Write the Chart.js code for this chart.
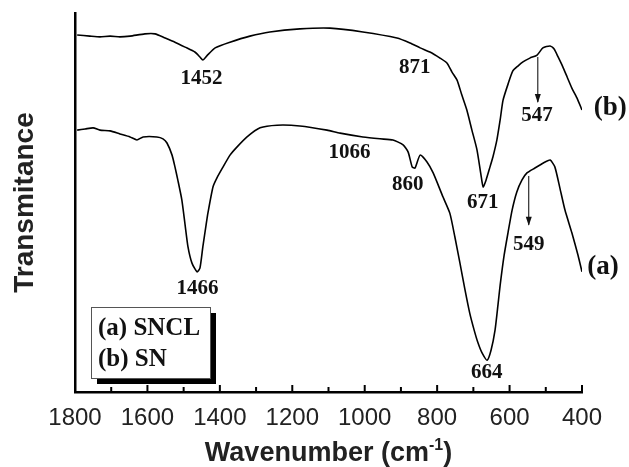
<!DOCTYPE html>
<html>
<head>
<meta charset="utf-8">
<script src="https://cdn.jsdelivr.net/npm/chart.js@4.4.1/dist/chart.umd.min.js"></script>
<style>
  html, body { margin: 0; padding: 0; background: #fff; }
  canvas { display: block; }
</style>
</head>
<body>
<canvas id="ftirChart" width="629" height="467"></canvas>
<script>
// Wavenumber (cm-1) and relative transmittance
const snWavenumber = [1794, 1759, 1731, 1703, 1676, 1648, 1607, 1579, 1551, 1524, 1496, 1469, 1455, 1447, 1436, 1413, 1372, 1317, 1262, 1179, 1096, 1005, 911, 875, 847, 820, 792, 773, 759, 745, 732, 718, 704, 690, 679, 673, 665, 654, 646, 635, 626, 618, 604, 591, 577, 563, 544, 524, 508, 488, 477, 466, 453, 441, 428, 414, 400];
const snTransmittance = [94.2, 93.9, 93.7, 93.9, 93.7, 93.9, 94.5, 94.5, 93.4, 92.3, 91.0, 89.7, 88.4, 87.6, 88.7, 90.8, 92.3, 93.9, 95.0, 95.8, 96.0, 95.0, 93.4, 92.1, 90.8, 89.7, 88.1, 86.8, 84.4, 82.3, 78.4, 74.4, 69.1, 63.9, 57.3, 54.1, 55.9, 59.4, 62.0, 66.5, 71.8, 77.0, 81.3, 84.7, 86.0, 87.1, 88.1, 88.9, 90.8, 91.3, 90.5, 88.4, 85.8, 83.1, 80.2, 77.6, 74.4];

const snclWavenumber = [1794, 1772, 1750, 1731, 1703, 1676, 1648, 1629, 1612, 1574, 1557, 1546, 1532, 1524, 1516, 1505, 1496, 1488, 1477, 1463, 1455, 1447, 1438, 1433, 1419, 1408, 1391, 1372, 1353, 1325, 1289, 1242, 1179, 1104, 1068, 1005, 958, 922, 894, 880, 869, 861, 847, 828, 811, 784, 765, 751, 737, 724, 710, 698, 687, 676, 662, 651, 640, 632, 626, 615, 604, 593, 580, 566, 552, 530, 516, 502, 488, 475, 461, 447, 428, 411, 400];
const snclTransmittance = [69.1, 69.4, 69.7, 69.1, 68.9, 68.1, 67.3, 66.5, 67.3, 67.3, 66.8, 65.7, 62.5, 59.4, 55.9, 50.7, 44.1, 38.3, 34.0, 31.7, 32.7, 38.3, 44.1, 47.2, 54.1, 56.5, 59.4, 62.5, 64.6, 67.3, 69.7, 70.4, 70.2, 69.1, 68.3, 67.3, 66.8, 66.5, 65.2, 63.3, 59.4, 59.1, 62.5, 60.7, 57.8, 51.5, 47.2, 40.9, 34.0, 27.4, 20.8, 16.4, 12.9, 10.3, 8.4, 11.1, 16.4, 23.0, 28.2, 36.1, 42.2, 48.0, 52.8, 55.9, 57.8, 59.1, 59.9, 60.7, 61.2, 59.4, 53.8, 48.0, 42.0, 36.1, 31.7];

const seriesLabels = ['(a) SNCL', '(b) SN'];
const curveTags = ['(a)', '(b)'];

// Peak labels: text, wavenumber and transmittance where the text sits
const peakText = ['1452', '871', '547', '1066', '860', '671', '549', '664', '1466'];
const peakX = [1451, 862, 524, 1042, 881, 674, 547, 663, 1462];
const peakY = [82.8, 85.5, 73.0, 63.1, 54.6, 49.9, 38.8, 5.0, 27.4];

// Arrows pointing at the 547 / 549 shoulders
const arrowX = [522, 547];
const arrowTop = [88.4, 57.0];
const arrowBottom = [76.5, 44.1];

const tickLabels = [1800, 1600, 1400, 1200, 1000, 800, 600, 400];

const toPoints = (xs, ys) => xs.map((x, i) => ({ x: x, y: ys[i] }));

const serif = '"Liberation Serif", "Times New Roman", serif';
const sans = '"Liberation Sans", Arial, sans-serif';

// Inward ticks, annotations, legend box and x title
const decorPlugin = {
  id: 'decorPlugin',
  afterDraw(chart) {
    const ctx = chart.ctx;
    const xs = chart.scales.x;
    const ys = chart.scales.y;
    const area = chart.chartArea;

    ctx.save();
    ctx.strokeStyle = '#000';
    ctx.lineWidth = 2;
    xs.ticks.forEach(t => {
      const px = xs.getPixelForValue(t.value);
      const len = t.value % 200 === 0 ? 7 : 5;
      ctx.beginPath();
      ctx.moveTo(px, area.bottom);
      ctx.lineTo(px, area.bottom - len);
      ctx.stroke();
    });

    // peak numbers
    ctx.fillStyle = '#111';
    ctx.textAlign = 'center';
    ctx.textBaseline = 'middle';
    ctx.font = 'bold 21px ' + serif;
    peakText.forEach((txt, i) => {
      ctx.fillText(txt, xs.getPixelForValue(peakX[i]), ys.getPixelForValue(peakY[i]));
    });

    // curve tags at the right end
    ctx.font = 'bold 27px ' + serif;
    ctx.fillText(curveTags[1], xs.getPixelForValue(322), ys.getPixelForValue(74.9));
    ctx.fillText(curveTags[0], xs.getPixelForValue(342), ys.getPixelForValue(33.0));

    // arrows
    ctx.lineWidth = 1;
    arrowX.forEach((wn, i) => {
      const px = xs.getPixelForValue(wn);
      const y0 = ys.getPixelForValue(arrowTop[i]);
      const y1 = ys.getPixelForValue(arrowBottom[i]);
      ctx.beginPath();
      ctx.moveTo(px, y0);
      ctx.lineTo(px, y1);
      ctx.stroke();
      ctx.beginPath();
      ctx.moveTo(px, y1 + 1);
      ctx.lineTo(px - 3, y1 - 8);
      ctx.lineTo(px + 3, y1 - 8);
      ctx.closePath();
      ctx.fill();
    });

    // legend box with drop shadow
    const bx = area.left + 16, by = 307, bw = 119, bh = 71;
    ctx.fillStyle = '#000';
    ctx.fillRect(bx + 6, by + 6, bw, bh);
    ctx.fillStyle = '#fff';
    ctx.fillRect(bx, by, bw, bh);
    ctx.strokeStyle = '#555';
    ctx.lineWidth = 1;
    ctx.strokeRect(bx + 0.5, by + 0.5, bw, bh);
    ctx.fillStyle = '#111';
    ctx.textAlign = 'left';
    ctx.font = 'bold 25px ' + serif;
    ctx.fillText(seriesLabels[0], bx + 7, by + 22);
    ctx.fillText(seriesLabels[1], bx + 7, by + 53);

    // x axis title with superscript
    ctx.fillStyle = '#222';
    ctx.textBaseline = 'alphabetic';
    const main = 'Wavenumber (cm';
    const sup = '-1';
    const close = ')';
    ctx.font = 'bold 27px ' + sans;
    const w1 = ctx.measureText(main).width;
    const w3 = ctx.measureText(close).width;
    ctx.font = 'bold 16px ' + sans;
    const w2 = ctx.measureText(sup).width;
    let tx = (area.left + area.right) / 2 - (w1 + w2 + w3) / 2;
    const base = 461;
    ctx.font = 'bold 27px ' + sans;
    ctx.fillText(main, tx, base);
    ctx.font = 'bold 16px ' + sans;
    ctx.fillText(sup, tx + w1, base - 11);
    ctx.font = 'bold 27px ' + sans;
    ctx.fillText(close, tx + w1 + w2, base);
    ctx.restore();
  }
};

new Chart(document.getElementById('ftirChart').getContext('2d'), {
  type: 'line',
  data: {
    datasets: [
      {
        label: seriesLabels[0],
        data: toPoints(snclWavenumber, snclTransmittance),
        borderColor: '#000',
        borderWidth: 1.6,
        pointRadius: 0,
        tension: 0.2,
        fill: false
      },
      {
        label: seriesLabels[1],
        data: toPoints(snWavenumber, snTransmittance),
        borderColor: '#000',
        borderWidth: 1.6,
        pointRadius: 0,
        tension: 0.2,
        fill: false
      }
    ]
  },
  options: {
    responsive: false,
    animation: false,
    layout: { padding: { top: 13, right: 47, left: 0, bottom: 0 } },
    plugins: {
      legend: { display: false },
      tooltip: { enabled: false }
    },
    scales: {
      x: {
        type: 'linear',
        reverse: true,
        min: 400,
        max: 1800,
        afterFit(scale) { scale.height = 75; },
        grid: { display: false, drawTicks: false },
        border: { display: true, color: '#000', width: 2.5 },
        ticks: {
          stepSize: 100,
          autoSkip: false,
          maxRotation: 0,
          padding: 12,
          color: '#222',
          font: { family: sans, size: 24 },
          callback: v => tickLabels.includes(v) ? String(v) : ''
        }
      },
      y: {
        min: 0,
        max: 100,
        afterFit(scale) { scale.width = 75; },
        grid: { display: false, drawTicks: false },
        border: { display: true, color: '#000', width: 2.5 },
        ticks: { display: false },
        title: {
          display: true,
          text: 'Transmitance',
          color: '#222',
          padding: { top: 8, bottom: 0 },
          font: { family: sans, size: 28, weight: 'bold' }
        }
      }
    }
  },
  plugins: [decorPlugin]
});
</script>
</body>
</html>
